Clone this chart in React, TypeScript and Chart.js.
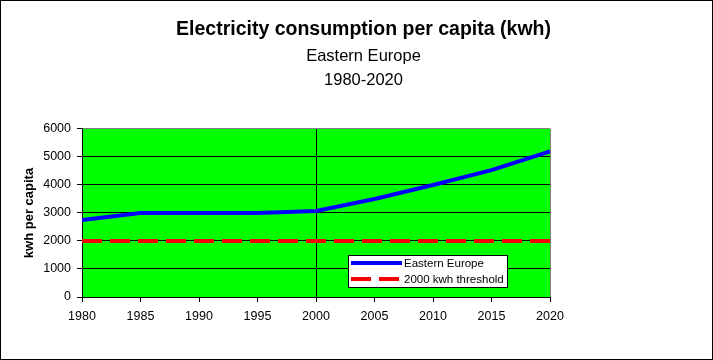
import React, { useEffect, useRef } from "react";
import { Chart, registerables } from "chart.js";

Chart.register(...registerables);

const years = [1980, 1985, 1990, 1995, 2000, 2005, 2010, 2015, 2020];
const easternEurope = [2750, 3000, 3000, 3000, 3070, 3500, 4000, 4530, 5200];
const threshold = [2000, 2000, 2000, 2000, 2000, 2000, 2000, 2000, 2000];
const seriesLabels = ["Eastern Europe", "2000 kwh threshold"];
const titleText = "Electricity consumption per capita (kwh)";
const subtitleLines = ["Eastern Europe", "1980-2020"];
const yAxisTitle = "kwh per capita";

const FONT = "Arial, 'Liberation Sans', sans-serif";

const decorPlugin = {
  id: "decor",
  beforeDraw(chart: any) {
    const { ctx, chartArea, width, height } = chart;
    ctx.save();
    ctx.fillStyle = "#ffffff";
    ctx.fillRect(0, 0, width, height);
    ctx.fillStyle = "#00ff00";
    ctx.fillRect(chartArea.left, chartArea.top, chartArea.right - chartArea.left, chartArea.bottom - chartArea.top);
    ctx.restore();
  },
  afterDraw(chart: any) {
    const { ctx, width, height } = chart;
    ctx.save();
    // legend box
    const bx = 348.5, by = 255.5, bw = 159, bh = 32;
    ctx.fillStyle = "#ffffff";
    ctx.fillRect(bx, by, bw, bh);
    ctx.strokeStyle = "#000000";
    ctx.lineWidth = 1;
    ctx.strokeRect(bx, by, bw, bh);
    const ds = chart.data.datasets;
    ds.forEach((d: any, i: number) => {
      const ly = 263 + i * 16;
      ctx.beginPath();
      ctx.strokeStyle = d.borderColor;
      ctx.lineWidth = d.borderWidth;
      ctx.setLineDash(d.borderDash || []);
      ctx.moveTo(351, ly);
      ctx.lineTo(402, ly);
      ctx.stroke();
      ctx.setLineDash([]);
      ctx.fillStyle = "#000";
      ctx.font = `11.5px ${FONT}`;
      ctx.textBaseline = "middle";
      ctx.textAlign = "left";
      ctx.fillText(d.label, 404, ly + 0.5);
    });
    // outer border
    ctx.strokeStyle = "#000";
    ctx.lineWidth = 1;
    ctx.strokeRect(0.5, 0.5, width - 1, height - 1);
    ctx.restore();
  },
};

export default function App() {
  const ref = useRef<HTMLCanvasElement | null>(null);
  useEffect(() => {
    if (!ref.current) return;
    const chart = new Chart(ref.current, {
      type: "line",
      data: {
        datasets: [
          {
            label: seriesLabels[0],
            data: years.map((y, i) => ({ x: y, y: easternEurope[i] })),
            borderColor: "#0000ff",
            borderWidth: 4,
            pointRadius: 0,
            tension: 0,
            fill: false,
          },
          {
            label: seriesLabels[1],
            data: years.map((y, i) => ({ x: y, y: threshold[i] })),
            borderColor: "#ff0000",
            borderWidth: 4,
            borderDash: [20, 8],
            pointRadius: 0,
            tension: 0,
            fill: false,
          },
        ],
      },
      options: {
        responsive: false,
        animation: false,
        layout: { padding: { left: 14, right: 0, top: 0, bottom: 0 } },
        plugins: {
          legend: { display: false },
          tooltip: { enabled: false },
          title: {
            display: true,
            text: titleText,
            color: "#000",
            font: { family: FONT, size: 19.5, weight: "bold", lineHeight: 1.2 },
            padding: { top: 18.3, bottom: 2.3 },
          },
          subtitle: {
            display: true,
            text: subtitleLines,
            color: "#000",
            font: { family: FONT, size: 16.5, lineHeight: 1.4545 },
            padding: { top: 0, bottom: 37 },
          },
        },
        scales: {
          x: {
            type: "linear",
            min: 1980,
            max: 2020,
            afterFit: (s: any) => {
              s.height = 63;
            },
            ticks: { stepSize: 5, color: "#000", font: { family: FONT, size: 12.5 }, padding: 7, maxRotation: 0, callback: (v: any) => String(v) },
            grid: {
              color: (c: any) => (c.tick && c.tick.value === 2000 ? "#000000" : c.tick && c.tick.value === 2020 ? "#808080" : "rgba(0,0,0,0)"),
              tickColor: "#000",
              tickLength: 5,
              lineWidth: 1,
            },
            border: { color: "#000", width: 1 },
          },
          y: {
            min: 0,
            max: 6000,
            afterFit: (s: any) => {
              s.width = 68;
            },
            ticks: { stepSize: 1000, color: "#000", font: { family: FONT, size: 12.5 }, padding: 6, callback: (v: any) => String(v) },
            grid: {
              color: (c: any) => (c.tick && c.tick.value === 6000 ? "#808080" : "#000000"),
              tickColor: "#000",
              tickLength: 5,
              lineWidth: 1,
            },
            border: { color: "#000", width: 1 },
            title: {
              display: true,
              text: yAxisTitle,
              color: "#000",
              font: { family: FONT, size: 13, weight: "bold", lineHeight: 1.2 },
              padding: { top: 8, bottom: 0 },
            },
          },
          spacer: {
            type: "linear",
            position: "right",
            display: true,
            afterFit: (s: any) => {
              s.width = 163;
            },
            ticks: { display: false },
            grid: { display: false, drawOnChartArea: false },
            border: { display: false },
          },
        },
      },
      plugins: [decorPlugin],
    } as any);
    return () => chart.destroy();
  }, []);
  return (
    <div style={{ position: "absolute", left: 0, top: 0, width: 713, height: 360 }}>
      <canvas ref={ref} width={713} height={360} style={{ display: "block" }} />
    </div>
  );
}
